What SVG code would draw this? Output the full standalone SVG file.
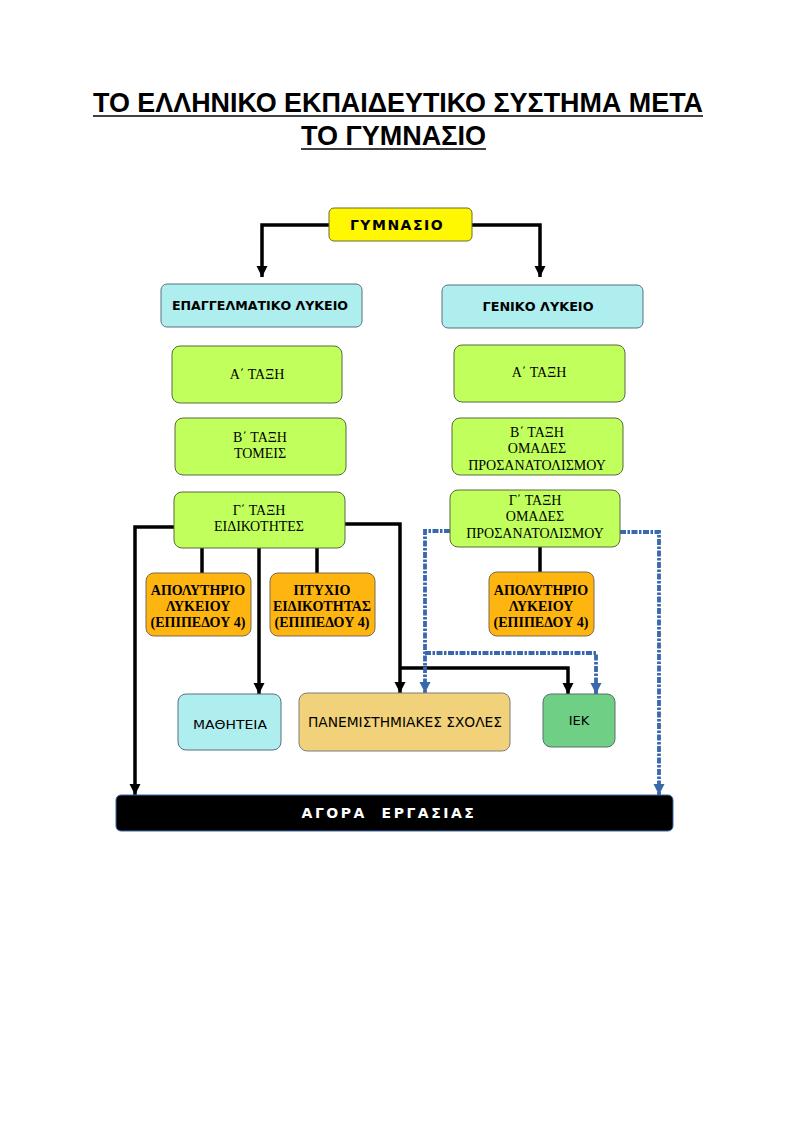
<svg xmlns="http://www.w3.org/2000/svg" width="794" height="1123" viewBox="0 0 794 1123">
<defs>
<style>
.title{font-family:"Liberation Sans",Arial,sans-serif;font-weight:bold;font-size:27px;fill:#000}
.ul{stroke:#000;stroke-width:1.6}
.cyan{fill:#AEEEEE;stroke:#5a6f80;stroke-width:1}
.green{fill:#C0FF5C;stroke:#5b6a3c;stroke-width:1}
.orange{fill:#FFB50F;stroke:#7a6a50;stroke-width:1}
.hdr{font-family:"DejaVu Sans",Verdana,sans-serif;font-weight:bold;font-size:12px;fill:#000}
.ser{font-family:"Liberation Serif","Times New Roman",serif;font-size:14px;fill:#000}
.serb{font-family:"Liberation Serif","Times New Roman",serif;font-weight:bold;font-size:14px;fill:#000}
.sans{font-family:"DejaVu Sans",Verdana,sans-serif;font-size:13px;fill:#000}
.blk{fill:none;stroke:#000;stroke-width:3.5}
.blu{fill:none;stroke:#3A68AC;stroke-width:3.8;stroke-dasharray:6 1.5 2.5 1.5}
</style>
<marker id="ab" viewBox="0 0 10 10" refX="10" refY="5" markerWidth="3.2" markerHeight="3.2" orient="auto" markerUnits="strokeWidth">
<path d="M0,0 L10,5 L0,10 z" fill="#000"/>
</marker>
<marker id="au" viewBox="0 0 10 10" refX="10" refY="5" markerWidth="3" markerHeight="3" orient="auto" markerUnits="strokeWidth">
<path d="M0,0 L10,5 L0,10 z" fill="#3A68AC"/>
</marker>
</defs>
<rect width="794" height="1123" fill="#fff"/>

<g id="title">
<text class="title" x="93" y="112" textLength="610" lengthAdjust="spacingAndGlyphs">ΤΟ ΕΛΛΗΝΙΚΟ ΕΚΠΑΙΔΕΥΤΙΚΟ ΣΥΣΤΗΜΑ ΜΕΤΑ</text>
<line class="ul" x1="93" y1="116" x2="703" y2="116"/>
<text class="title" x="301" y="145" textLength="185" lengthAdjust="spacingAndGlyphs">ΤΟ ΓΥΜΝΑΣΙΟ</text>
<line class="ul" x1="301" y1="149" x2="486" y2="149"/>
</g>

<g id="connectors">
<polyline class="blk" points="329,225 262,225 262,277" marker-end="url(#ab)"/>
<polyline class="blk" points="472,225 540,225 540,277" marker-end="url(#ab)"/>
<polyline class="blk" points="174,527 135,527 135,795" marker-end="url(#ab)"/>
<polyline class="blk" points="345,524 400,524 400,693" marker-end="url(#ab)"/>
<polyline class="blk" points="400,668 568,668 568,694" marker-end="url(#ab)"/>
<line class="blk" x1="202" y1="548" x2="202" y2="573"/>
<line class="blk" x1="317" y1="548" x2="317" y2="573"/>
<line class="blk" x1="540" y1="547" x2="540" y2="572"/>
<line class="blk" x1="259" y1="548" x2="259" y2="694" marker-end="url(#ab)"/>
<polyline class="blu" points="450,531 425,531 425,693" marker-end="url(#au)"/>
<polyline class="blu" points="425,653 596,653 596,694" marker-end="url(#au)"/>
<polyline class="blu" points="620,532 659,532 659,795" marker-end="url(#au)"/>
</g>

<g id="gymnasio">
<rect x="329" y="208" width="143" height="33" rx="5" fill="#FFF800" stroke="#6a6a30" stroke-width="1"/>
<text class="hdr" x="397" y="230" text-anchor="middle" style="font-size:14px" letter-spacing="1.5">ΓΥΜΝΑΣΙΟ</text>
</g>

<g id="epal">
<rect class="cyan" x="161" y="284" width="201" height="43" rx="6"/>
<text class="hdr" x="260" y="310" text-anchor="middle" textLength="176" lengthAdjust="spacingAndGlyphs">ΕΠΑΓΓΕΛΜΑΤΙΚΟ ΛΥΚΕΙΟ</text>
</g>
<g id="genl">
<rect class="cyan" x="442" y="285" width="201" height="43" rx="6"/>
<text class="hdr" x="538" y="311" text-anchor="middle" textLength="111" lengthAdjust="spacingAndGlyphs">ΓΕΝΙΚΟ ΛΥΚΕΙΟ</text>
</g>

<g id="epal-a">
<rect class="green" x="172" y="346" width="170" height="57" rx="8"/>
<text class="ser" x="257" y="379" text-anchor="middle">Α΄ ΤΑΞΗ</text>
</g>
<g id="epal-b">
<rect class="green" x="175" y="418" width="171" height="57" rx="8"/>
<text class="ser" x="260" y="442" text-anchor="middle">Β΄ ΤΑΞΗ</text>
<text class="ser" x="260" y="458" text-anchor="middle">ΤΟΜΕΙΣ</text>
</g>
<g id="epal-c">
<rect class="green" x="174" y="492" width="171" height="56" rx="8"/>
<text class="ser" x="259" y="515" text-anchor="middle">Γ΄ ΤΑΞΗ</text>
<text class="ser" x="259" y="531" text-anchor="middle">ΕΙΔΙΚΟΤΗΤΕΣ</text>
</g>

<g id="genl-a">
<rect class="green" x="454" y="345" width="171" height="57" rx="8"/>
<text class="ser" x="539" y="377" text-anchor="middle">Α΄ ΤΑΞΗ</text>
</g>
<g id="genl-b">
<rect class="green" x="452" y="418" width="171" height="57" rx="8"/>
<text class="ser" x="537" y="437" text-anchor="middle">Β΄ ΤΑΞΗ</text>
<text class="ser" x="537" y="453" text-anchor="middle">ΟΜΑΔΕΣ</text>
<text class="ser" x="537" y="470" text-anchor="middle">ΠΡΟΣΑΝΑΤΟΛΙΣΜΟΥ</text>
</g>
<g id="genl-c">
<rect class="green" x="450" y="490" width="170" height="57" rx="8"/>
<text class="ser" x="535" y="505" text-anchor="middle">Γ΄ ΤΑΞΗ</text>
<text class="ser" x="535" y="521" text-anchor="middle">ΟΜΑΔΕΣ</text>
<text class="ser" x="535" y="538" text-anchor="middle">ΠΡΟΣΑΝΑΤΟΛΙΣΜΟΥ</text>
</g>

<g id="apol-epal">
<rect class="orange" x="146" y="573" width="105" height="63" rx="8"/>
<text class="serb" x="198" y="595" text-anchor="middle">ΑΠΟΛΥΤΗΡΙΟ</text>
<text class="serb" x="198" y="611" text-anchor="middle">ΛΥΚΕΙΟΥ</text>
<text class="serb" x="198" y="627" text-anchor="middle">(ΕΠΙΠΕΔΟΥ 4)</text>
</g>
<g id="ptyxio">
<rect class="orange" x="270" y="573" width="105" height="63" rx="8"/>
<text class="serb" x="322" y="595" text-anchor="middle">ΠΤΥΧΙΟ</text>
<text class="serb" x="322" y="611" text-anchor="middle" textLength="98" lengthAdjust="spacingAndGlyphs">ΕΙΔΙΚΟΤΗΤΑΣ</text>
<text class="serb" x="322" y="627" text-anchor="middle">(ΕΠΙΠΕΔΟΥ 4)</text>
</g>
<g id="apol-genl">
<rect class="orange" x="489" y="572" width="105" height="64" rx="8"/>
<text class="serb" x="541" y="595" text-anchor="middle">ΑΠΟΛΥΤΗΡΙΟ</text>
<text class="serb" x="541" y="611" text-anchor="middle">ΛΥΚΕΙΟΥ</text>
<text class="serb" x="541" y="627" text-anchor="middle">(ΕΠΙΠΕΔΟΥ 4)</text>
</g>

<g id="mathiteia">
<rect class="cyan" x="178" y="694" width="103" height="56" rx="8"/>
<text class="sans" x="230" y="729" text-anchor="middle" textLength="74" lengthAdjust="spacingAndGlyphs">ΜΑΘΗΤΕΙΑ</text>
</g>
<g id="panepistimia">
<rect x="299" y="693" width="211" height="58" rx="8" fill="#F1D27A" stroke="#7d7d7d" stroke-width="1"/>
<text class="sans" x="405" y="727" text-anchor="middle" style="font-size:13.5px" textLength="194" lengthAdjust="spacingAndGlyphs">ΠΑΝΕΜΙΣΤΗΜΙΑΚΕΣ ΣΧΟΛΕΣ</text>
</g>
<g id="iek">
<rect x="543" y="694" width="72" height="53" rx="8" fill="#6FCF85" stroke="#5a6f6a" stroke-width="1"/>
<text class="sans" x="579" y="725" text-anchor="middle">ΙΕΚ</text>
</g>

<g id="agora">
<rect x="116" y="795" width="557" height="36" rx="5" fill="#000" stroke="#3A68AC" stroke-width="1"/>
<text x="389" y="818" text-anchor="middle" font-family="DejaVu Sans,Verdana,sans-serif" font-weight="bold" font-size="14" fill="#fff" letter-spacing="2.5" xml:space="preserve">ΑΓΟΡΑ  ΕΡΓΑΣΙΑΣ</text>
</g>
</svg>
